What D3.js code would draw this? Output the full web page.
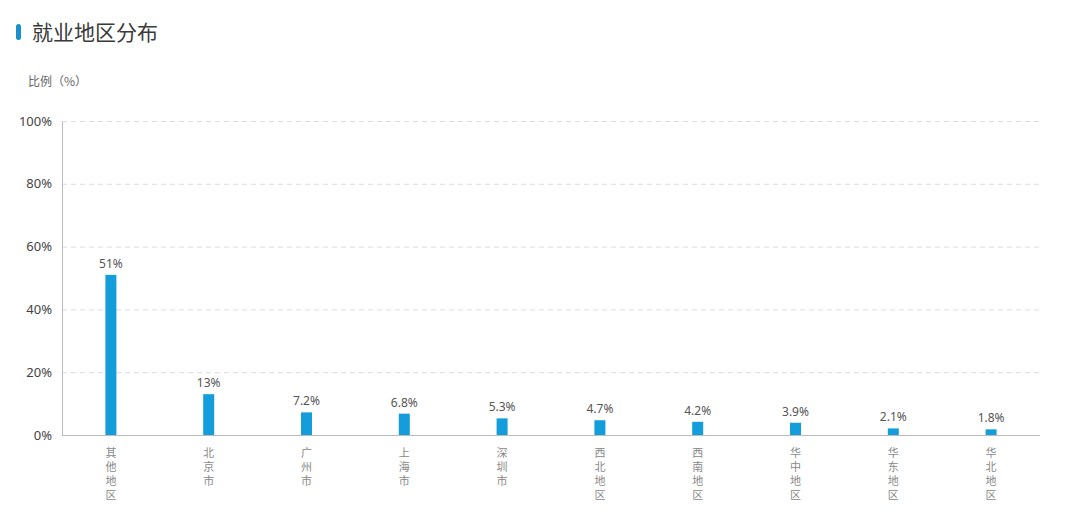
<!DOCTYPE html>
<html>
<head>
<meta charset="utf-8">
<script src="https://cdn.jsdelivr.net/npm/d3@7"></script>
<style>
  body { margin: 0; background: #fff; }
  svg { font-family: "Noto Sans CJK SC", "Noto Sans", sans-serif; }
</style>
</head>
<body>
<svg id="chart"></svg>
<script>
// data
var regions = ["其他地区", "北京市", "广州市", "上海市", "深圳市", "西北地区", "西南地区", "华中地区", "华东地区", "华北地区"];
var shares = [51, 13, 7.2, 6.8, 5.3, 4.7, 4.2, 3.9, 2.1, 1.8];
var shareLabels = ["51%", "13%", "7.2%", "6.8%", "5.3%", "4.7%", "4.2%", "3.9%", "2.1%", "1.8%"];
var yTicks = [0, 20, 40, 60, 80, 100];

var W = 1080, H = 525;
var margin = {top: 121, right: 40, bottom: 90, left: 62},
  width = W - margin.left - margin.right,
  height = H - margin.top - margin.bottom;

var svg = d3.select("#chart")
  .attr("width", W)
  .attr("height", H);

// title
svg.append("rect")
  .attr("x", 16).attr("y", 24)
  .attr("width", 5).attr("height", 16)
  .attr("rx", 2.5)
  .attr("fill", "#1a8fc9");
svg.append("text")
  .attr("x", 32).attr("y", 40)
  .attr("font-size", 21)
  .attr("fill", "#3a3a3a")
  .text("就业地区分布");

svg.append("text")
  .attr("x", 28).attr("y", 86)
  .attr("font-size", 12)
  .attr("fill", "#666")
  .text("比例（%）");

var g = svg.append("g")
  .attr("transform", "translate(" + margin.left + "," + margin.top + ")");

var x = d3.scaleBand()
  .domain(regions)
  .range([0, width])
  .padding(0);

var y = d3.scaleLinear()
  .domain([0, 100])
  .range([height, 0]);

// gridlines
g.selectAll(".grid")
  .data(yTicks.filter(function(d) { return d > 0; }))
  .enter()
  .append("line")
  .attr("x1", 0).attr("x2", width)
  .attr("y1", function(d) { return y(d) + 0.5; })
  .attr("y2", function(d) { return y(d) + 0.5; })
  .attr("stroke", "#dcdcdc")
  .attr("stroke-dasharray", "5,4");

// y axis
var yAxis = g.append("g")
  .call(d3.axisLeft(y).tickValues(yTicks).tickSize(0).tickPadding(10)
    .tickFormat(function(d) { return d + "%"; }));
yAxis.select(".domain").attr("stroke", "#bbb");
yAxis.selectAll("text")
  .attr("font-size", 13)
  .attr("fill", "#444")
  .attr("font-family", "\"Noto Sans\", sans-serif");

// x axis line
g.append("line")
  .attr("x1", 0).attr("x2", width)
  .attr("y1", height + 0.5).attr("y2", height + 0.5)
  .attr("stroke", "#bbb");

var bw = 11;

// bars
g.selectAll(".bar")
  .data(shares)
  .enter()
  .append("rect")
  .attr("x", function(d, i) { return x(regions[i]) + x.bandwidth() / 2 - bw / 2; })
  .attr("y", function(d) { return y(d); })
  .attr("width", bw)
  .attr("height", function(d) { return height - y(d); })
  .attr("fill", "#139ddb");

// value labels
g.selectAll(".val")
  .data(shares)
  .enter()
  .append("text")
  .attr("x", function(d, i) { return x(regions[i]) + x.bandwidth() / 2; })
  .attr("y", function(d) { return y(d) - 7; })
  .attr("text-anchor", "middle")
  .attr("font-size", 12)
  .attr("fill", "#555")
  .attr("font-family", "\"Noto Sans\", sans-serif")
  .text(function(d, i) { return shareLabels[i]; });

// x labels, one char per line
regions.forEach(function(r) {
  r.split("").forEach(function(c, k) {
    g.append("text")
      .attr("x", x(r) + x.bandwidth() / 2)
      .attr("y", height + 22 + k * 14)
      .attr("text-anchor", "middle")
      .attr("font-size", 11)
      .attr("fill", "#888")
      .text(c);
  });
});
</script>
</body>
</html>
